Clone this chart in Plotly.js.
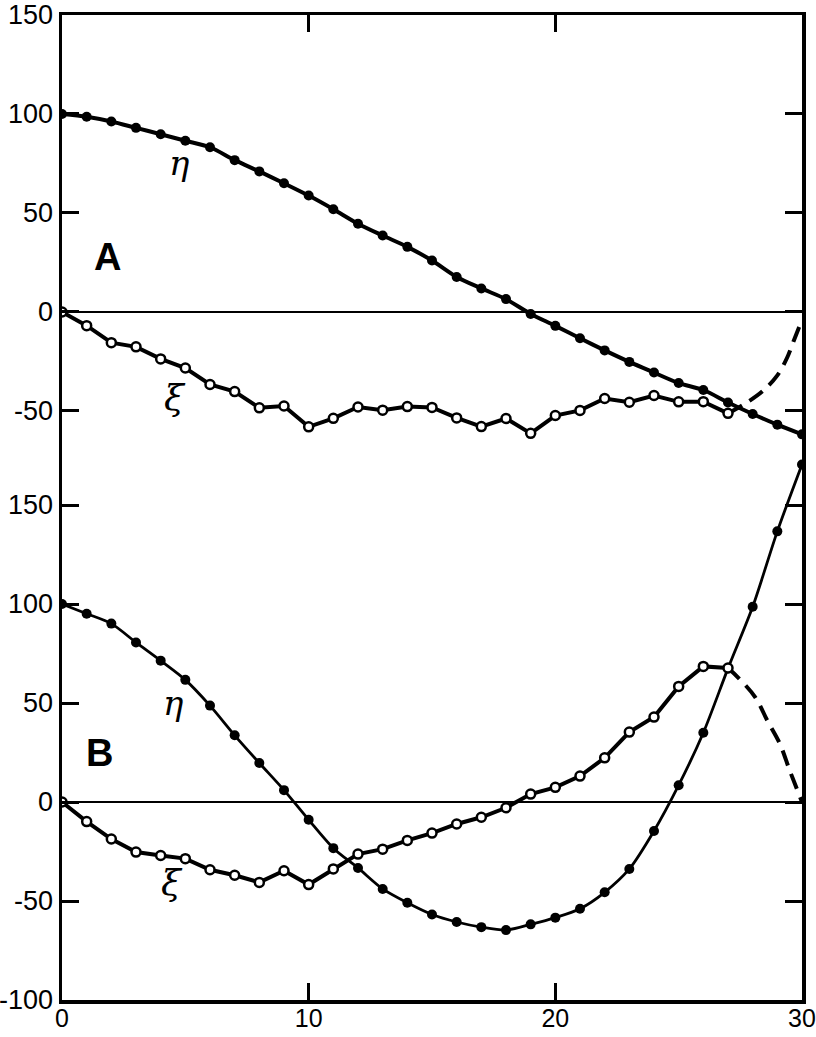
<!DOCTYPE html>
<html>
<head>
<meta charset="utf-8">
<script src="https://cdn.plot.ly/plotly-3.0.1.min.js"></script>
<style>
html,body{margin:0;padding:0;background:#fff;}
#chart{width:816px;height:1037px;}
</style>
</head>
<body>
<div id="chart"></div>
<script>
// ---------- data ----------
const xVals = [0,1,2,3,4,5,6,7,8,9,10,11,12,13,14,15,16,17,18,19,20,21,22,23,24,25,26,27,28,29,30];

// Panel A
const etaA = [100,98.6,96.2,93,89.8,86.5,83.2,76.7,71,65,58.8,51.9,44.6,38.6,32.9,26,17.7,11.9,6.5,-1,-7,-13.3,-19.4,-25.2,-30.6,-35.9,-39.4,-45.7,-51.5,-56.9,-61.8];
const xiAx = [0,1,2,3,4,5,6,7,8,9,10,11,12,13,14,15,16,17,18,19,20,21,22,23,24,25,26,27];
const xiA = [0,-6.9,-15.5,-17.6,-23.7,-28.3,-36.6,-40.2,-48.4,-47.5,-58,-53.7,-48,-49.6,-47.8,-48.2,-53.5,-57.9,-53.8,-61.3,-52.3,-49.7,-43.7,-45.6,-42.2,-45.4,-45.3,-51.2];
const xiAdashX = [27,27.6,28.4,29,29.4,29.65,30];
const xiAdashY = [-51.2,-47,-40,-32,-23,-15,-4];

// Panel B
const etaB = [100,95.1,90.1,80.6,71.4,61.7,48.7,33.7,19.7,6,-9,-23.3,-33.3,-43.9,-50.9,-56.8,-60.6,-63.2,-64.7,-61.8,-58.4,-53.9,-45.6,-33.8,-14.6,8.5,35,67.5,98.6,136.7,170.5];
const xiBx = [0,1,2,3,4,5,6,7,8,9,10,11,12,13,14,15,16,17,18,19,20,21,22,23,24,25,26,27];
const xiB = [0,-9.9,-18.7,-25.3,-27,-28.6,-34.2,-37,-40.6,-34.7,-41.7,-33.8,-26.3,-23.8,-19.4,-15.7,-11.1,-7.7,-2.9,4,7.4,13.1,22.3,35.3,42.9,58.4,68.5,67.7];
const xiBdashX = [27,27.4,28.1,28.6,29.1,29.5,30];
const xiBdashY = [67.7,63,53,41,29.5,16,0];

// ticks
const xTicks = [0,10,20,30];
const xTickText = ['0','10','20','30'];
const yTicksA = [-50,0,50,100,150];
const yTickTextA = ['-50','0','50','100','150'];
const yTicksB = [-100,-50,0,50,100,150];
const yTickTextB = ['-100','-50','0','50','100','150'];

// ---------- style ----------
const BLK = '#000';
const tickFont = {family:'Liberation Sans, Arial, sans-serif', size:27, color:BLK};

function etaTrace(y, yaxis, w){
  return {x:xVals, y:y, yaxis:yaxis, type:'scatter', mode:'lines+markers',
    line:{color:BLK, width:w, shape:'spline', smoothing:0.8},
    marker:{color:BLK, size:10, symbol:'circle'}, hoverinfo:'skip'};
}
function xiTrace(x, y, yaxis){
  return {x:x, y:y, yaxis:yaxis, type:'scatter', mode:'lines+markers',
    line:{color:BLK, width:4},
    marker:{color:'#fff', size:9, symbol:'circle', line:{color:BLK, width:2.5}}, hoverinfo:'skip'};
}
function dashTrace(x, y, yaxis){
  return {x:x, y:y, yaxis:yaxis, type:'scatter', mode:'lines',
    line:{color:BLK, width:4, dash:'16px,9px', shape:'spline', smoothing:1}, hoverinfo:'skip'};
}

const data = [
  dashTrace(xiAdashX, xiAdashY, 'y2'),
  etaTrace(etaA, 'y2', 4),
  xiTrace(xiAx, xiA, 'y2'),
  dashTrace(xiBdashX, xiBdashY, 'y'),
  etaTrace(etaB, 'y', 2.8),
  xiTrace(xiBx, xiB, 'y')
];

const axCommon = {
  showgrid:false, ticks:'inside', ticklen:17, tickwidth:3, tickcolor:BLK,
  showline:true, linewidth:3.5, linecolor:BLK, mirror:'ticks',
  tickfont:tickFont, fixedrange:true
};

const layout = {
  width:816, height:1037,
  margin:{l:62, r:14, t:15, b:37},
  paper_bgcolor:'#fff', plot_bgcolor:'#fff',
  showlegend:false,
  xaxis:Object.assign({}, axCommon, {range:[0,30], tickmode:'array', tickvals:xTicks, ticktext:xTickText,
    zeroline:false, ticklabeloverflow:'allow', ticklabelstandoff:-7,
    tickfont:{family:'Liberation Sans, Arial, sans-serif', size:25, color:BLK}}),
  yaxis:Object.assign({}, axCommon, {range:[-100,397.5], tickmode:'array', tickvals:yTicksB, ticktext:yTickTextB,
    zeroline:true, zerolinecolor:BLK, zerolinewidth:1.8}),
  yaxis2:Object.assign({}, axCommon, {overlaying:'y', side:'left', range:[-347.5,150], tickmode:'array', tickvals:yTicksA, ticktext:yTickTextA,
    zeroline:true, zerolinecolor:BLK, zerolinewidth:1.8}),
  annotations:[
    {text:'<b>A</b>', xref:'paper', yref:'paper', x:0.061, y:0.754, xanchor:'center', yanchor:'middle', showarrow:false, font:{family:'Liberation Sans, Arial, sans-serif', size:38, color:BLK}},
    {text:'<b>B</b>', xref:'paper', yref:'paper', x:0.050, y:0.251, xanchor:'center', yanchor:'middle', showarrow:false, font:{family:'Liberation Sans, Arial, sans-serif', size:38, color:BLK}},
    {text:'<i>η</i>', xref:'paper', yref:'paper', x:0.159, y:0.850, xanchor:'center', yanchor:'middle', showarrow:false, font:{family:'DejaVu Serif, serif', size:34, color:BLK}},
    {text:'<i>ξ</i>', xref:'paper', yref:'paper', x:0.153, y:0.612, xanchor:'center', yanchor:'middle', showarrow:false, font:{family:'DejaVu Serif, serif', size:36, color:BLK}},
    {text:'<i>η</i>', xref:'paper', yref:'paper', x:0.150, y:0.302, xanchor:'center', yanchor:'middle', showarrow:false, font:{family:'DejaVu Serif, serif', size:34, color:BLK}},
    {text:'<i>ξ</i>', xref:'paper', yref:'paper', x:0.149, y:0.119, xanchor:'center', yanchor:'middle', showarrow:false, font:{family:'DejaVu Serif, serif', size:36, color:BLK}}
  ]
};

Plotly.newPlot('chart', data, layout, {staticPlot:true, displayModeBar:false});
</script>
</body>
</html>
